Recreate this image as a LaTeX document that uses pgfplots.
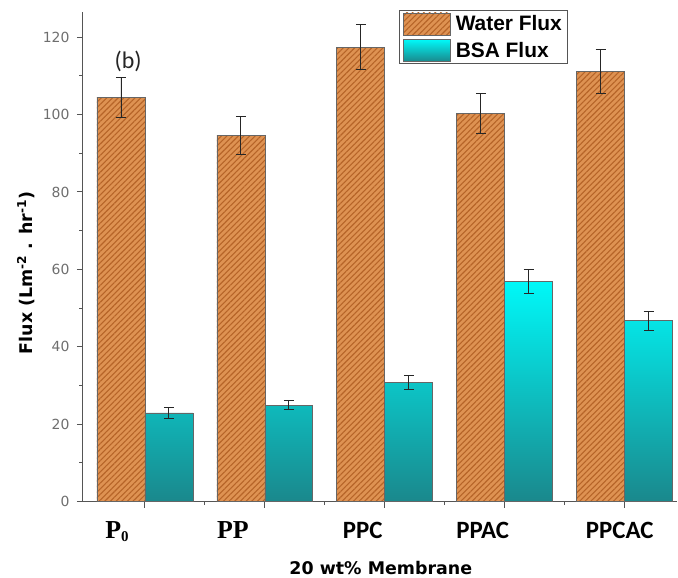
\documentclass[border=0pt]{standalone}
\usepackage{pgfplots}
\pgfplotsset{compat=1.18}
\usetikzlibrary{patterns.meta}
\usepackage{fontspec}
\setmainfont{DejaVu Sans}
\newfontfamily\carlito{Carlito}
\newfontfamily\lserif{Liberation Serif}
\newfontfamily\lsans{Liberation Sans}
\definecolor{hatchbase}{RGB}{222,146,82}
\definecolor{hatchline}{RGB}{182,100,40}
\definecolor{cyantop}{RGB}{0,248,248}
\definecolor{cyanmid}{RGB}{0,208,210}
\definecolor{tealbot}{RGB}{26,136,140}
\definecolor{axisgray}{RGB}{85,85,85}
\definecolor{tickgray}{RGB}{110,110,110}
\newcommand{\shl}[2]{\hbox to 0pt{\hss #2\hskip #1\hss}}
\begin{document}
\begin{tikzpicture}[x=1bp,y=1bp]
\begin{axis}[
  at={(0,0)}, anchor=south west,
  scale only axis, width=595bp, height=490bp,
  xmin=-0.517, xmax=4.44, ymin=0, ymax=126.5,
  axis lines=left,
  axis line style={axisgray, line width=1.1bp, -},
  xtick={0,1,2,3,4},
  minor xtick={0.5,1.5,2.5,3.5},
  xticklabels={
    {\shl{56bp}{\lserif\bfseries\fontsize{26}{26}\selectfont P\raisebox{-0.25ex}{\fontsize{15}{15}\selectfont 0}}},
    {\shl{64bp}{\lserif\bfseries\fontsize{26}{26}\selectfont PP}},
    {\shl{44bp}{\carlito\bfseries\fontsize{25}{25}\selectfont PPC}},
    {\shl{44bp}{\carlito\bfseries\fontsize{25}{25}\selectfont PPAC}},
    {\shl{10bp}{\carlito\bfseries\fontsize{25}{25}\selectfont PPCAC}}},
  ytick={0,20,...,120},
  minor ytick={10,30,...,110},
  /pgf/number format/assume math mode=true,
  tick align=outside,
  major tick length=6bp, minor tick length=3.5bp,
  every tick/.style={axisgray, line width=1bp},
  yticklabel style={font=\fontsize{14}{14}\selectfont, text=tickgray, xshift=-4bp},
  xticklabel style={anchor=base, yshift=-31bp},
  xlabel={20 wt\% Membrane},
  ylabel={Flux (Lm\textsuperscript{-2} . hr\textsuperscript{-1})},
  every axis x label/.style={at={(axis description cs:0.501,-0.135)}, anchor=center, font=\bfseries\fontsize{17.5}{17.5}\selectfont},
  every axis y label/.style={at={(axis description cs:-0.096,0.467)}, rotate=90, anchor=center, font=\bfseries\fontsize{17.5}{17.5}\selectfont},
  ybar=0pt, bar width=0.4,
  legend style={at={(rel axis cs:0.531,1.004)}, anchor=north west,
    draw=axisgray, line width=1bp, fill=white,
    font=\lsans\bfseries\fontsize{21}{21}\selectfont,
    inner xsep=4bp, inner ysep=2bp, row sep=4bp,
    nodes={inner sep=2bp}},
  legend cell align=left,
  legend image code/.code={\draw[#1] (0bp,-11bp) rectangle (47bp,11bp);},
  error bars/y dir=both, error bars/y explicit,
  error bars/error bar style={black!85, line width=0.9bp, solid},
  error bars/error mark options={rotate=90, mark size=5bp, black!85, line width=0.9bp},
  clip=false,
]
\addplot[fill=hatchbase, draw=black!60, line width=0.7bp,
  postaction={pattern={Lines[angle=45,distance=4bp,line width=1.1bp]}, pattern color=hatchline}]
  coordinates {(0,104.5) +- (0,5.2) (1,94.6) +- (0,4.8) (2,117.4) +- (0,5.8) (3,100.3) +- (0,5.2) (4,111.2) +- (0,5.7)};
\addlegendentry{\hspace{3bp}Water Flux\hspace{4bp}}
\addplot[top color=cyantop, middle color=cyanmid, bottom color=tealbot, draw=black!60, line width=0.7bp]
  coordinates {(0,22.9) +- (0,1.3) (1,24.9) +- (0,1.2) (2,30.8) +- (0,1.7) (3,56.8) +- (0,3.1) (4,46.7) +- (0,2.4)};
\addlegendentry{\hspace{3bp}BSA Flux}
\node[font=\carlito\fontsize{24}{24}\selectfont, text=black!85] at (axis cs:-0.14,113.8) {(b)};
\end{axis}
\path[use as bounding box] (-83bp,-73bp) rectangle (595bp,502bp);
\end{tikzpicture}
\end{document}
